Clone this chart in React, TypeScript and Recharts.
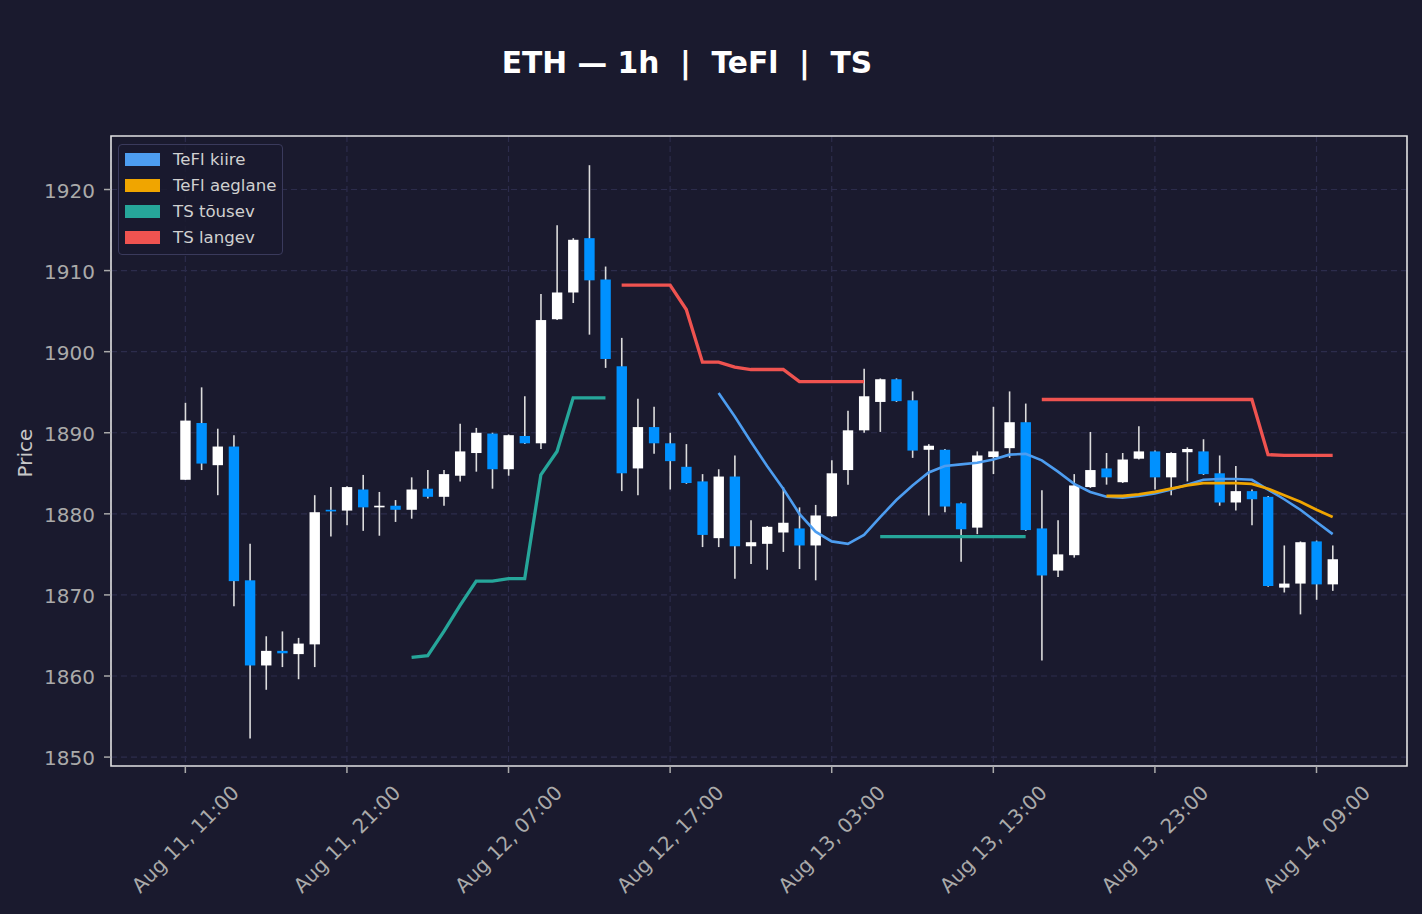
import {
  ComposedChart,
  Bar,
  Line,
  XAxis,
  YAxis,
  CartesianGrid,
  ReferenceArea,
} from 'recharts';

const FONT = '"DejaVu Sans", Verdana, sans-serif';
const BG = '#1a1a2e';
const GRID = '#2c2c4c';
const TICK = '#aaaaaa';
const WICK = '#dcdcdc';
const UP = '#ffffff';
const DOWN = '#0091ff';

// hourly candles, Aug 11 11:00 -> Aug 14 10:00
const OPEN = [
  1884.2, 1891.2, 1886.0, 1888.3, 1871.8, 1861.3, 1863.1, 1862.7, 1863.9, 1880.5,
  1880.4, 1883.0, 1880.8, 1881.0, 1880.5, 1883.1, 1882.1, 1884.7, 1887.5, 1889.9,
  1885.5, 1889.6, 1888.7, 1904.0, 1907.3, 1914.0, 1908.9, 1898.2, 1885.6, 1890.7,
  1888.7, 1885.8, 1884.0, 1877.0, 1884.6, 1876.0, 1876.3, 1877.7, 1878.2, 1876.1,
  1879.7, 1885.4, 1890.3, 1893.8, 1896.6, 1894.0, 1887.9, 1887.9, 1881.3, 1878.3,
  1887.0, 1888.1, 1891.3, 1878.2, 1873.0, 1874.9, 1883.3, 1885.6, 1883.9, 1886.8,
  1887.7, 1884.5, 1887.6, 1887.7, 1885.0, 1881.4, 1882.8, 1882.1, 1870.9, 1871.4,
  1876.6, 1871.3,
];
const HIGH = [
  1893.7, 1895.6, 1890.5, 1889.7, 1876.3, 1864.9, 1865.5, 1864.7, 1882.3, 1883.3,
  1883.4, 1884.8, 1882.7, 1881.7, 1884.5, 1885.4, 1885.4, 1891.1, 1890.6, 1890.0,
  1889.8, 1894.5, 1907.1, 1915.6, 1914.0, 1923.0, 1910.5, 1901.7, 1894.2, 1893.2,
  1890.0, 1888.6, 1884.9, 1885.5, 1887.2, 1879.2, 1878.5, 1883.3, 1880.8, 1881.1,
  1886.6, 1892.7, 1897.9, 1896.7, 1896.7, 1895.1, 1888.6, 1888.0, 1881.4, 1887.7,
  1893.2, 1895.1, 1893.6, 1882.9, 1879.2, 1884.9, 1890.1, 1887.5, 1887.5, 1890.8,
  1887.8, 1887.6, 1888.2, 1889.2, 1887.2, 1885.9, 1883.0, 1882.2, 1876.1, 1876.6,
  1876.7, 1876.1,
];
const LOW = [
  1884.2, 1885.4, 1882.3, 1868.6, 1852.3, 1858.3, 1861.1, 1859.6, 1861.1, 1877.2,
  1878.6, 1877.9, 1877.3, 1879.0, 1879.4, 1881.9, 1881.0, 1884.0, 1885.2, 1883.1,
  1884.7, 1888.6, 1888.0, 1903.9, 1906.0, 1902.1, 1898.0, 1882.8, 1882.3, 1887.4,
  1883.0, 1883.7, 1875.9, 1875.9, 1872.0, 1873.8, 1873.1, 1875.3, 1873.2, 1871.8,
  1879.6, 1883.6, 1890.0, 1890.1, 1893.8, 1886.9, 1879.8, 1880.2, 1874.1, 1877.5,
  1884.9, 1886.9, 1877.9, 1861.9, 1872.2, 1874.6, 1883.2, 1883.6, 1883.8, 1886.7,
  1883.0, 1882.3, 1884.0, 1884.8, 1881.0, 1880.4, 1878.6, 1871.0, 1870.3, 1867.6,
  1869.4, 1870.5,
];
const CLOSE = [
  1891.5, 1886.2, 1888.3, 1871.7, 1861.3, 1863.1, 1862.8, 1864.0, 1880.2, 1880.3,
  1883.3, 1880.8, 1881.0, 1880.5, 1883.0, 1882.1, 1884.9, 1887.7, 1890.0, 1885.5,
  1889.7, 1888.7, 1903.9, 1907.3, 1913.8, 1908.8, 1899.1, 1885.0, 1890.7, 1888.7,
  1886.5, 1883.8, 1877.4, 1884.6, 1876.0, 1876.5, 1878.4, 1878.9, 1876.1, 1879.8,
  1885.0, 1890.3, 1894.5, 1896.6, 1893.9, 1887.8, 1888.4, 1880.9, 1878.1, 1887.2,
  1887.7, 1891.3, 1878.0, 1872.4, 1875.0, 1883.5, 1885.4, 1884.5, 1886.7, 1887.7,
  1884.5, 1887.5, 1888.0, 1884.9, 1881.4, 1882.8, 1881.8, 1871.1, 1871.4, 1876.5,
  1871.3, 1874.4,
];

// TeFl kiire, from candle 33
const FAST_START = 33;
const FAST = [
  1894.9, 1892.0, 1888.9, 1885.9, 1883.1, 1880.0, 1877.8, 1876.6, 1876.3, 1877.4,
  1879.6, 1881.7, 1883.5, 1885.1, 1885.9, 1886.1, 1886.3, 1886.7, 1887.3, 1887.4,
  1886.6, 1885.2, 1883.7, 1882.7, 1882.1, 1882.0, 1882.2, 1882.5, 1883.0, 1883.6,
  1884.2, 1884.3, 1884.3, 1884.2, 1883.0, 1881.8, 1880.5, 1879.0, 1877.5,
];
// TeFl aeglane, from candle 57
const SLOW_START = 57;
const SLOW = [
  1882.2, 1882.2, 1882.4, 1882.7, 1883.1, 1883.5, 1883.8, 1883.8, 1883.8, 1883.7,
  1883.1, 1882.3, 1881.5, 1880.5, 1879.6,
];
// TS tõusev segments
const TS_UP_A_START = 14;
const TS_UP_A = [
  1862.3, 1862.5, 1865.5, 1868.7, 1871.7, 1871.7, 1872.0, 1872.0, 1884.8, 1887.7,
  1894.3, 1894.3, 1894.3,
];
const TS_UP_B_START = 43;
const TS_UP_B = [1877.2, 1877.2, 1877.2, 1877.2, 1877.2, 1877.2, 1877.2, 1877.2, 1877.2, 1877.2];
// TS langev segments
const TS_DOWN_A_START = 27;
const TS_DOWN_A = [
  1908.2, 1908.2, 1908.2, 1908.2, 1905.2, 1898.7, 1898.7, 1898.1, 1897.8, 1897.8,
  1897.8, 1896.3, 1896.3, 1896.3, 1896.3, 1896.3,
];
const TS_DOWN_B_START = 53;
const TS_DOWN_B = [
  1894.1, 1894.1, 1894.1, 1894.1, 1894.1, 1894.1, 1894.1, 1894.1, 1894.1, 1894.1,
  1894.1, 1894.1, 1894.1, 1894.1, 1887.3, 1887.2, 1887.2, 1887.2, 1887.2,
];

const TICK_INDEX = [0, 10, 20, 30, 40, 50, 60, 70];
const TICK_LABELS = [
  'Aug 11, 11:00',
  'Aug 11, 21:00',
  'Aug 12, 07:00',
  'Aug 12, 17:00',
  'Aug 13, 03:00',
  'Aug 13, 13:00',
  'Aug 13, 23:00',
  'Aug 14, 09:00',
];
const Y_TICKS = [1850, 1860, 1870, 1880, 1890, 1900, 1910, 1920];
const X_DOMAIN = [-4.6, 75.6];
const Y_DOMAIN = [1848.9, 1926.6];

const LEGEND = [
  { name: 'TeFl kiire', color: '#4d9df0' },
  { name: 'TeFl aeglane', color: '#f0a500' },
  { name: 'TS tõusev', color: '#26a69a' },
  { name: 'TS langev', color: '#ef5350' },
];

function pick(start: number, values: number[], i: number) {
  const k = i - start;
  return k >= 0 && k < values.length ? values[k] : null;
}

const data = OPEN.map((open, i) => ({
  i,
  open,
  high: HIGH[i],
  low: LOW[i],
  close: CLOSE[i],
  fast: pick(FAST_START, FAST, i),
  slow: pick(SLOW_START, SLOW, i),
  tsUp: pick(TS_UP_A_START, TS_UP_A, i) ?? pick(TS_UP_B_START, TS_UP_B, i),
  tsDown: pick(TS_DOWN_A_START, TS_DOWN_A, i) ?? pick(TS_DOWN_B_START, TS_DOWN_B, i),
}));

function Candle(props: any) {
  const { x, y, width, height, payload } = props;
  if (x == null || y == null) return null;
  const { open, close, high, low } = payload;
  const top = Math.min(y, y + height);
  const h = Math.abs(height);
  const ppu = h / (high - low);
  const yOf = (v: number) => top + (high - v) * ppu;
  const up = close >= open;
  let bodyTop = yOf(Math.max(open, close));
  let bodyH = yOf(Math.min(open, close)) - bodyTop;
  if (bodyH < 1.6) {
    bodyTop -= (1.6 - bodyH) / 2;
    bodyH = 1.6;
  }
  const cx = x + width / 2;
  return (
    <g>
      <line x1={cx} x2={cx} y1={top} y2={top + h} stroke={WICK} strokeWidth={1.6} />
      <rect x={x} y={bodyTop} width={width} height={bodyH} fill={up ? UP : DOWN} />
    </g>
  );
}

function XTick(props: any) {
  const { x, y, payload } = props;
  const label = TICK_LABELS[TICK_INDEX.indexOf(payload.value)];
  const cy = y + 64;
  return (
    <text
      x={x}
      y={cy}
      textAnchor="middle"
      dominantBaseline="central"
      transform={`rotate(-45 ${x} ${cy})`}
      fill={TICK}
      fontSize={20}
      fontFamily={FONT}
    >
      {label}
    </text>
  );
}

export default function App() {
  return (
    <div
      style={{
        position: 'absolute',
        left: 0,
        top: 0,
        width: 1422,
        height: 914,
        background: BG,
        fontFamily: FONT,
        overflow: 'hidden',
      }}
    >
      <ComposedChart
        width={1422}
        height={914}
        data={data}
        margin={{ top: 136, right: 15, bottom: 18, left: 31 }}
      >
        <CartesianGrid stroke={GRID} strokeDasharray="6 4" strokeWidth={1.2} />
        <XAxis
          dataKey="i"
          type="number"
          domain={X_DOMAIN}
          ticks={TICK_INDEX}
          interval={0}
          allowDataOverflow
          height={130}
          tickSize={7}
          tickLine={{ stroke: TICK, strokeWidth: 1.5 }}
          axisLine={false}
          tick={<XTick />}
        />
        <YAxis
          type="number"
          domain={Y_DOMAIN}
          ticks={Y_TICKS}
          allowDataOverflow
          width={80}
          tickSize={7}
          tickMargin={9}
          tickLine={{ stroke: TICK, strokeWidth: 1.5 }}
          axisLine={false}
          tick={{ fill: TICK, fontSize: 20, fontFamily: FONT, dy: 1 }}
        />
        <Bar
          dataKey={(d: any) => [d.low, d.high]}
          barSize={10.4}
          shape={Candle}
          isAnimationActive={false}
        />
        <Line
          dataKey="tsUp"
          type="linear"
          stroke="#26a69a"
          strokeWidth={3.3}
          dot={false}
          activeDot={false}
          isAnimationActive={false}
        />
        <Line
          dataKey="tsDown"
          type="linear"
          stroke="#ef5350"
          strokeWidth={3.3}
          dot={false}
          activeDot={false}
          isAnimationActive={false}
        />
        <Line
          dataKey="fast"
          type="linear"
          stroke="#4d9df0"
          strokeWidth={2.6}
          dot={false}
          activeDot={false}
          isAnimationActive={false}
        />
        <Line
          dataKey="slow"
          type="linear"
          stroke="#f0a500"
          strokeWidth={2.8}
          dot={false}
          activeDot={false}
          isAnimationActive={false}
        />
        <ReferenceArea
          x1={X_DOMAIN[0]}
          x2={X_DOMAIN[1]}
          y1={Y_DOMAIN[0]}
          y2={Y_DOMAIN[1]}
          fill="none"
          fillOpacity={0}
          stroke="#e0e0e0"
          strokeWidth={1.6}
          ifOverflow="visible"
        />
      </ComposedChart>

      <div
        style={{
          position: 'absolute',
          left: 687,
          top: 48,
          transform: 'translateX(-50%)',
          fontSize: 29.7,
          lineHeight: '29px',
          fontWeight: 'bold',
          color: '#ffffff',
          whiteSpace: 'pre',
        }}
      >
        {'ETH — 1h  |  TeFl  |  TS'}
      </div>

      <div
        style={{
          position: 'absolute',
          left: 25,
          top: 453,
          transform: 'translate(-50%, -50%) rotate(-90deg)',
          fontSize: 20,
          lineHeight: '20px',
          color: '#c8c8c8',
          whiteSpace: 'nowrap',
        }}
      >
        Price
      </div>

      <div
        style={{
          position: 'absolute',
          left: 118,
          top: 144,
          width: 165,
          height: 111,
          boxSizing: 'border-box',
          border: '1.5px solid #3a3a5c',
          borderRadius: 4,
          background: 'rgba(26,26,46,0.85)',
        }}
      >
        {LEGEND.map((item, k) => (
          <div
            key={item.name}
            style={{
              position: 'absolute',
              left: 5.5,
              top: 1.6 + 26 * k,
              height: 26,
              display: 'flex',
              alignItems: 'center',
              whiteSpace: 'nowrap',
            }}
          >
            <div style={{ width: 35, height: 13, background: item.color }} />
            <span style={{ marginLeft: 13.5, fontSize: 16.6, color: '#d0d0d0' }}>{item.name}</span>
          </div>
        ))}
      </div>
    </div>
  );
}
